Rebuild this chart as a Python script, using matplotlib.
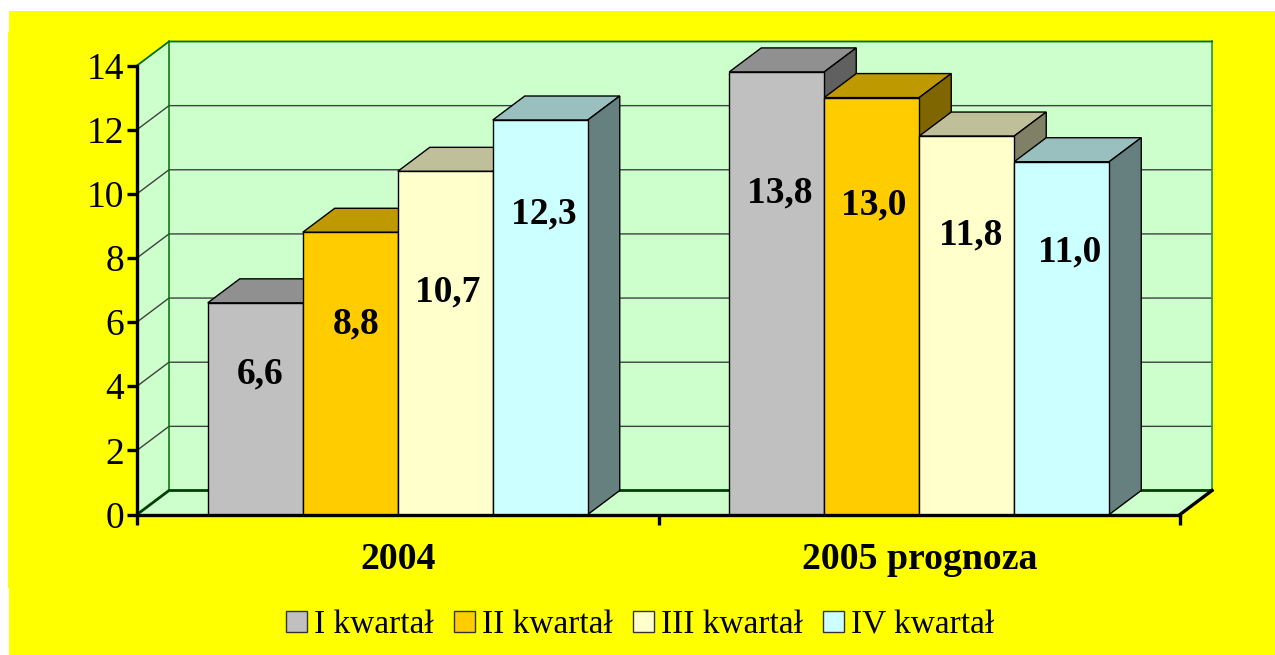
import matplotlib
matplotlib.use("Agg")
import matplotlib.pyplot as plt
from matplotlib.patches import Patch, Rectangle

W, H = 1275, 655

# values
categories = ["2004", "2005 prognoza"]
quarters = ["I kwartał", "II kwartał", "III kwartał", "IV kwartał"]
values_2004 = [6.6, 8.8, 10.7, 12.3]
values_2005 = [13.8, 13.0, 11.8, 11.0]
y_ticks = [0, 2, 4, 6, 8, 10, 12, 14]

# front, top and side colour of the boxes
front_colors = ["#C0C0C0", "#FFCC00", "#FFFFCC", "#CCFFFF"]
top_colors = ["#909090", "#BF9900", "#BFBF99", "#99BFBF"]
side_colors = ["#606060", "#806600", "#808066", "#668080"]

# the data labels do not sit in the middle of the bars
label_y = [[4.37, 5.94, 6.94, 9.36], [10.04, 9.64, 8.71, 8.18]]
label_dx = [[0.009, 0.011, 0.004, 0.006], [0.006, 0.004, 0.008, 0.015]]

plt.rcParams["font.family"] = ["Liberation Serif", "DejaVu Serif"]

fig = plt.figure(figsize=(W / 100, H / 100), dpi=100, facecolor="white")

# yellow page, slightly uneven left edge like the original
fig.add_artist(Rectangle((9 / W, 0), 1 - 9 / W, 1 - 11 / H, transform=fig.transFigure,
                         facecolor="#FFFF00", edgecolor="none", zorder=-2))
fig.add_artist(Rectangle((8 / W, 67 / H), 2 / W, 556 / H, transform=fig.transFigure,
                         facecolor="#FFFF00", edgecolor="none", zorder=-2))

ax = fig.add_axes([137 / W, (H - 514.5) / H, 1043 / W, 449 / H])
ax.set_facecolor("none")
ax.set_xlim(0, 2)
ax.set_ylim(0, 14)

# depth of the fake 3d, in data units
dx = 32 / 521.5
dy = 24 / 32.07
bar_w = 95 / 521.5

# walls and floor
wall = "#CCFFCC"
ax.fill([0, dx, dx, 0], [0, dy, 14 + dy, 14], color=wall, clip_on=False, zorder=1, lw=0)
ax.fill([dx, 2 + dx, 2 + dx, dx], [dy, dy, 14 + dy, 14 + dy], color=wall, clip_on=False, zorder=1, lw=0)
ax.fill([0, dx, 2 + dx, 2], [0, dy, dy, 0], color=wall, clip_on=False, zorder=1, lw=0)

for t in y_ticks[1:-1]:
    ax.plot([0, dx, 2 + dx], [t, t + dy, t + dy], color="#404040", lw=1.0, clip_on=False, zorder=1.2)

green = "#007000"
ax.plot([2 + dx, 2 + dx], [dy, 14 + dy], color="#2E9E4A", lw=1.3, clip_on=False, zorder=1.25)
ax.plot([0, dx, 2 + dx], [14, 14 + dy, 14 + dy], color=green, lw=1.3, clip_on=False, zorder=1.3)
ax.plot([dx, dx], [dy, 14 + dy], color=green, lw=1.1, clip_on=False, zorder=1.3)
ax.plot([0, dx, 2 + dx], [0, dy, dy], color="#004000", lw=2.0, clip_on=False, zorder=1.3)
ax.plot([2, 2 + dx], [0, dy], color="black", lw=2.4, clip_on=False, zorder=3)

# boxes, left to right so the next one hides the side of the previous
z = 1.5
for c, vals in enumerate([values_2004, values_2005]):
    for q, v in enumerate(vals):
        x0 = c + 0.5 + (q - 2) * bar_w
        x1 = x0 + bar_w
        ax.fill([x0, x0 + dx, x1 + dx, x1], [v, v + dy, v + dy, v], facecolor=top_colors[q],
                edgecolor="black", lw=1.0, clip_on=False, zorder=z)
        ax.fill([x1, x1 + dx, x1 + dx, x1], [0, dy, v + dy, v], facecolor=side_colors[q],
                edgecolor="black", lw=1.0, clip_on=False, zorder=z)
        ax.bar(x0, v, width=bar_w, align="edge", color=front_colors[q], edgecolor="black",
               lw=1.0, clip_on=False, zorder=z + 0.01)
        ax.text(x0 + bar_w / 2 + label_dx[c][q], label_y[c][q], str(v).replace(".", ","),
                ha="center", va="center", fontsize=27, fontweight="bold", zorder=4)
        z += 0.02

# axes
for s in ["top", "right"]:
    ax.spines[s].set_visible(False)
for s in ["left", "bottom"]:
    ax.spines[s].set_linewidth(2.4)
    ax.spines[s].set_zorder(3)
ax.set_yticks(y_ticks)
ax.tick_params(axis="y", length=7, width=2.4, labelsize=27, pad=2)
ax.set_xticks([0, 1, 2])
ax.set_xticklabels([])
ax.tick_params(axis="x", which="major", length=7.5, width=2.4)
ax.set_xticks([0.5, 1.5], minor=True)
ax.set_xticklabels(categories, minor=True, fontsize=27.2, fontweight="bold")
ax.tick_params(axis="x", which="minor", length=0, pad=19.5)

# legend
handles = [Patch(facecolor=col, edgecolor="#333333", lw=1.0) for col in front_colors]
fig.legend(handles, quarters, loc="center", bbox_to_anchor=(640 / W, (H - 625) / H), ncol=4,
           frameon=False, fontsize=24, handlelength=0.63, handleheight=0.63,
           handletextpad=0.22, columnspacing=0.6, borderpad=0)

fig.savefig("out.png", dpi=100, facecolor="white")
